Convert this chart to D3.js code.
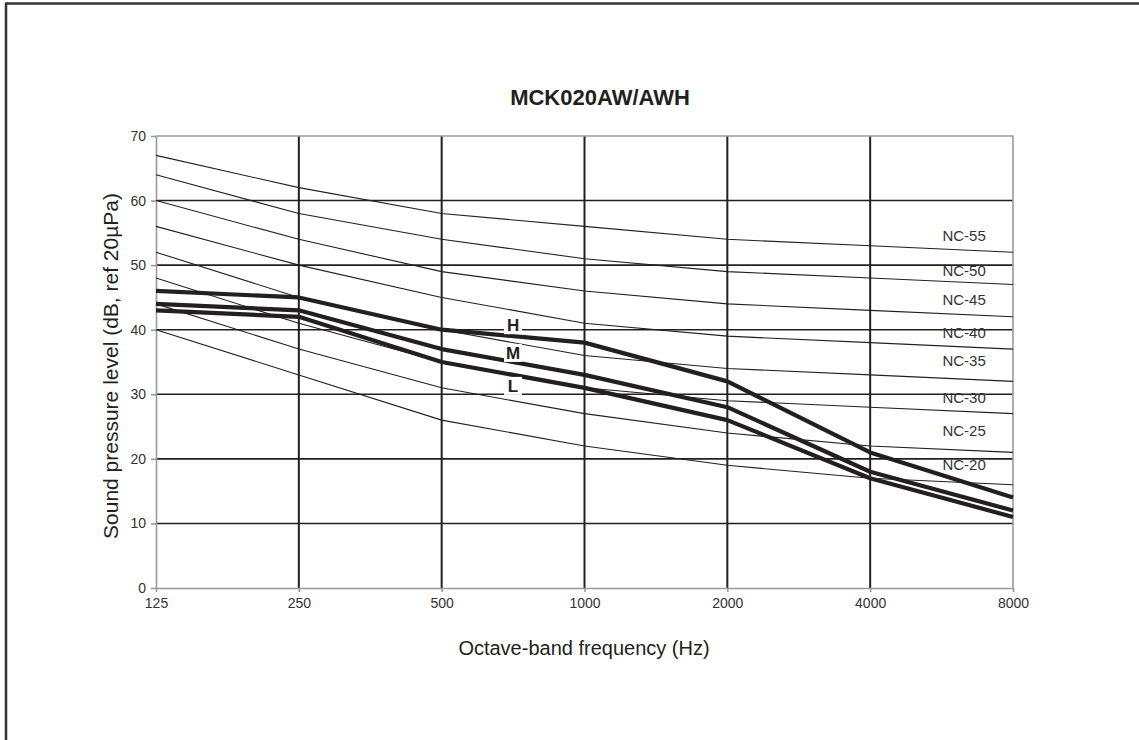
<!DOCTYPE html>
<meta charset="utf-8">
<head>
  <title>MCK020AW/AWH NC curves</title>
</head>
<style>
  body { margin: 0; background: #fff; }
  svg { display: block; font-family: "Liberation Sans", Arial, sans-serif; }
  .grid line { stroke: #231f20; }
  .axis path, .axis line { stroke: #9a9a9a; }
  .axis text { fill: #333; font-size: 14px; }
</style>
<body>
<script src="https://cdnjs.cloudflare.com/ajax/libs/d3/7.8.5/d3.min.js"></script>
<script>
// octave bands (Hz)
var freqs = [125, 250, 500, 1000, 2000, 4000, 8000];
var yTicks = [0, 10, 20, 30, 40, 50, 60, 70];

// NC reference curves
var ncNames = ["NC-20", "NC-25", "NC-30", "NC-35", "NC-40", "NC-45", "NC-50", "NC-55"];
var ncValues = [
  [40, 33, 26, 22, 19, 17, 16],
  [44, 37, 31, 27, 24, 22, 21],
  [48, 41, 35, 31, 29, 28, 27],
  [52, 45, 40, 36, 34, 33, 32],
  [56, 50, 45, 41, 39, 38, 37],
  [60, 54, 49, 46, 44, 43, 42],
  [64, 58, 54, 51, 49, 48, 47],
  [67, 62, 58, 56, 54, 53, 52]
];
// where the NC names sit (frequency, dB)
var ncLabelFreq = 6310;
var ncLabelDb = [19.1, 24.4, 29.4, 35.2, 39.5, 44.6, 49.1, 54.5];

// fan speeds
var speedNames = ["H", "M", "L"];
var speedValues = [
  [46, 45, 40, 38, 32, 21, 14],
  [44, 43, 37, 33, 28, 18, 12],
  [43, 42, 35, 31, 26, 17, 11]
];
var speedLabelFreq = 707;
var speedLabelDb = [40.7, 36.4, 31.3];

var W = 1139, H = 740;
var plot = {left: 156, right: 1013, top: 136, bottom: 588};

var svg = d3.select("body").append("svg")
    .attr("width", W)
    .attr("height", H);

// outer frame (only top and left edges show)
svg.append("line").attr("x1", 6).attr("x2", W).attr("y1", 3.5).attr("y2", 3.5)
    .attr("stroke", "#333").attr("stroke-width", 2.5);
svg.append("line").attr("x1", 6).attr("x2", 6).attr("y1", 2.5).attr("y2", H)
    .attr("stroke", "#333").attr("stroke-width", 2.5);

var x = d3.scaleLog().base(2).domain([125, 8000]).range([plot.left, plot.right]);
var y = d3.scaleLinear().domain([0, 70]).range([plot.bottom, plot.top]);

// grid
var grid = svg.append("g").attr("class", "grid");
grid.selectAll(".hg")
    .data(yTicks.filter(function(d) { return d > 0 && d < 70; }))
  .enter().append("line")
    .attr("x1", plot.left).attr("x2", plot.right)
    .attr("y1", function(d) { return y(d); })
    .attr("y2", function(d) { return y(d); })
    .attr("stroke-width", 1.6);
grid.selectAll(".vg")
    .data(freqs.slice(1, -1))
  .enter().append("line")
    .attr("y1", plot.top).attr("y2", plot.bottom)
    .attr("x1", function(d) { return x(d); })
    .attr("x2", function(d) { return x(d); })
    .attr("stroke-width", 2);

// plot border (top and right gray)
svg.append("path")
    .attr("d", "M" + plot.left + "," + plot.top + "H" + plot.right + "V" + plot.bottom)
    .attr("fill", "none").attr("stroke", "#9a9a9a").attr("stroke-width", 1.6);

// axes
var xAxis = d3.axisBottom(x).tickValues(freqs).tickFormat(d3.format("d"))
    .tickSizeInner(4).tickSizeOuter(0).tickPadding(6);
var yAxis = d3.axisLeft(y).tickValues(yTicks)
    .tickSizeInner(5).tickSizeOuter(0).tickPadding(5);

svg.append("g").attr("class", "axis")
    .attr("transform", "translate(0," + plot.bottom + ")")
    .call(xAxis)
    .call(function(g) { g.selectAll("path, line").attr("stroke-width", 1.6); });
svg.append("g").attr("class", "axis")
    .attr("transform", "translate(" + plot.left + ",0)")
    .call(yAxis)
    .call(function(g) { g.selectAll("path, line").attr("stroke-width", 1.6); });

var line = d3.line()
    .x(function(d, i) { return x(freqs[i]); })
    .y(function(d) { return y(d); });

// NC curves
svg.append("g").selectAll("path")
    .data(ncValues)
  .enter().append("path")
    .attr("d", line)
    .attr("fill", "none")
    .attr("stroke", "#231f20")
    .attr("stroke-width", 1.1);

svg.append("g").selectAll("text")
    .data(ncNames)
  .enter().append("text")
    .attr("x", x(ncLabelFreq))
    .attr("y", function(d, i) { return y(ncLabelDb[i]); })
    .attr("dy", "0.35em")
    .attr("text-anchor", "middle")
    .style("font-size", "15px")
    .style("fill", "#333")
    .text(function(d) { return d; });

// fan speed curves
svg.append("g").selectAll("path")
    .data(speedValues)
  .enter().append("path")
    .attr("d", line)
    .attr("fill", "none")
    .attr("stroke", "#231f20")
    .attr("stroke-width", 4.2)
    .attr("stroke-linejoin", "round");

var lab = svg.append("g").selectAll("g")
    .data(speedNames)
  .enter().append("g")
    .attr("transform", function(d, i) {
      return "translate(" + x(speedLabelFreq) + "," + y(speedLabelDb[i]) + ")";
    });
lab.append("rect")
    .attr("x", -9).attr("y", -9).attr("width", 18).attr("height", 18)
    .attr("fill", "#fff");
lab.append("text")
    .attr("text-anchor", "middle")
    .attr("dy", "0.36em")
    .style("font-size", "17px")
    .style("font-weight", "bold")
    .style("fill", "#231f20")
    .text(function(d) { return d; });

// titles
svg.append("text")
    .attr("x", 600).attr("y", 105)
    .attr("text-anchor", "middle")
    .style("font-size", "22px")
    .style("font-weight", "bold")
    .style("fill", "#231f20")
    .text("MCK020AW/AWH");

svg.append("text")
    .attr("x", 584).attr("y", 655)
    .attr("text-anchor", "middle")
    .style("font-size", "20px")
    .style("fill", "#231f20")
    .text("Octave-band frequency (Hz)");

svg.append("text")
    .attr("transform", "translate(118," + 366 + ") rotate(-90)")
    .attr("text-anchor", "middle")
    .style("font-size", "21px")
    .style("fill", "#231f20")
    .text("Sound pressure level (dB, ref 20µPa)");
</script>
</body>
